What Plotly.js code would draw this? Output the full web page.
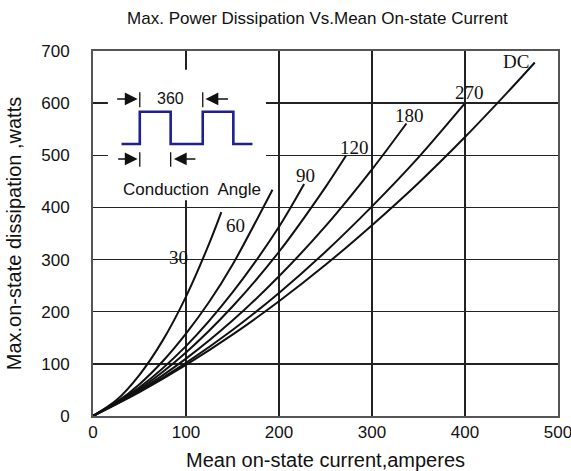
<!DOCTYPE html>
<html>
<head>
<meta charset="utf-8">
<script src="https://cdn.plot.ly/plotly-3.0.1.min.js"></script>
<style>html,body{margin:0;padding:0;background:#fff;}#chart{width:571px;height:471px;}</style>
</head>
<body>
<div id="chart"></div>
<script>
// Mean on-state current (A) and max dissipation (W)
const xDC  = [0, 50, 100, 150, 200, 250, 300, 350, 400, 450, 475];
const yDC  = [0, 46, 98, 156, 220, 290, 366, 447, 535, 629, 678];
const x270 = [0, 50, 100, 150, 200, 250, 300, 350, 400];
const y270 = [0, 47, 102, 165, 236, 315, 402, 496, 600];
const x180 = [0, 50, 100, 150, 200, 250, 300, 337];
const y180 = [0, 49, 110, 183, 268, 364, 473, 561];
const x120 = [0, 50, 100, 150, 200, 250, 272];
const y120 = [0, 52, 122, 210, 315, 439, 499];
const x90  = [0, 50, 100, 150, 200, 227];
const y90  = [0, 55, 134, 237, 363, 445];
const x60  = [0, 25, 50, 75, 100, 125, 150, 193];
const y60  = [0, 26, 61, 105, 158, 219, 290, 434];
const x30  = [0, 25, 50, 75, 100, 125, 138];
const y30  = [0, 30, 79, 145, 229, 331, 391];

const curveNames = ['30', '60', '90', '120', '180', '270', 'DC'];
const curveX = [x30, x60, x90, x120, x180, x270, xDC];
const curveY = [y30, y60, y90, y120, y180, y270, yDC];

const xTicks = [0, 100, 200, 300, 400, 500];
const yTicks = [0, 100, 200, 300, 400, 500, 600, 700];

const titleText = 'Max. Power Dissipation Vs.Mean On-state Current';
const xTitle = 'Mean on-state current,amperes';
const yTitle = 'Max.on-state dissipation ,watts';
const insetTop = '360';
const insetBottom = 'Conduction  Angle';

const traces = curveNames.map((n, i) => ({
  type: 'scatter', mode: 'lines', name: n,
  x: curveX[i], y: curveY[i],
  line: {color: '#111', width: 2, shape: 'spline', smoothing: 0.8},
  hoverinfo: 'skip', showlegend: false
}));

// label anchor positions (data units)
const labelPos = [[92, 304], [153, 366], [229, 462], [281, 515], [340, 577], [405, 620], [455, 680]];
const annotations = curveNames.map((n, i) => ({
  x: labelPos[i][0], y: labelPos[i][1], text: n, showarrow: false,
  xanchor: 'center', yanchor: 'middle',
  font: {family: 'Liberation Serif, serif', size: 19, color: '#111'}
}));

// inset: arrows
const navy = '#1f1f8f';
const arrowFont = {family: 'Liberation Sans, Arial, sans-serif', size: 16, color: '#111'};
function arrow(x, y, ax) {
  return {x: x, y: y, ax: ax, ay: 0, axref: 'pixel', ayref: 'pixel', text: '', showarrow: true,
    arrowhead: 2, arrowsize: 1.6, arrowwidth: 1.6, arrowcolor: '#111'};
}
annotations.push(arrow(48, 608, -22));
annotations.push(arrow(121, 608, 24));
annotations.push(arrow(48, 493, -21));
annotations.push(arrow(87, 493, 23));
annotations.push({x: 83, y: 608, text: insetTop, showarrow: false, font: arrowFont, xanchor: 'center', yanchor: 'middle'});
annotations.push({x: 106, y: 435, text: insetBottom, showarrow: false,
  font: {family: 'Liberation Sans, Arial, sans-serif', size: 17, color: '#111'}, xanchor: 'center', yanchor: 'middle'});

const shapes = [
  // white box hiding gridlines behind the inset
  {type: 'rect', xref: 'x', yref: 'y', x0: 16, x1: 186, y0: 414, y1: 664,
   fillcolor: '#ffffff', line: {width: 0}, layer: 'between'},
  // square wave
  {type: 'path', xref: 'x', yref: 'y', layer: 'above',
   path: 'M 30.7 521.7 L 50.3 521.7 L 50.3 583.6 L 83.5 583.6 L 83.5 521.7 L 118 521.7 L 118 583.6 L 150.9 583.6 L 150.9 521.7 L 171.5 521.7',
   line: {color: navy, width: 2.6}},
  // bars
  {type: 'line', xref: 'x', yref: 'y', x0: 50.3, x1: 50.3, y0: 592, y1: 621, line: {color: '#111', width: 1.3}},
  {type: 'line', xref: 'x', yref: 'y', x0: 118, x1: 118, y0: 592, y1: 621, line: {color: '#111', width: 1.3}},
  {type: 'line', xref: 'x', yref: 'y', x0: 50.3, x1: 50.3, y0: 478, y1: 506, line: {color: '#111', width: 1.3}},
  {type: 'line', xref: 'x', yref: 'y', x0: 83.5, x1: 83.5, y0: 478, y1: 506, line: {color: '#111', width: 1.3}}
];

const tickFont = {family: 'Liberation Sans, Arial, sans-serif', size: 17, color: '#111'};

const layout = {
  width: 571, height: 471,
  margin: {l: 93, r: 13, t: 51, b: 55},
  paper_bgcolor: '#fff', plot_bgcolor: '#fff',
  title: {text: titleText, x: 0.556, xref: 'container', y: 0.962, yref: 'container',
    xanchor: 'center', yanchor: 'middle',
    font: {family: 'Liberation Sans, Arial, sans-serif', size: 17, color: '#111'}},
  xaxis: {range: [0, 500], tickvals: xTicks, ticktext: xTicks.map(String),
    showgrid: true, gridcolor: '#222', gridwidth: 1.5,
    showline: true, mirror: true, linecolor: '#555', linewidth: 2,
    zeroline: false, ticks: '', tickfont: tickFont, ticklabeloverflow: 'allow', fixedrange: true,
    title: {text: xTitle, standoff: 14, font: {family: 'Liberation Sans, Arial, sans-serif', size: 20, color: '#111'}}},
  yaxis: {range: [0, 700], tickvals: yTicks, ticktext: yTicks.map(String),
    showgrid: true, gridcolor: '#222', gridwidth: 1.5,
    showline: true, mirror: true, linecolor: '#555', linewidth: 2,
    zeroline: false, ticks: '', tickfont: tickFont, ticklabelstandoff: 18, fixedrange: true,
    title: {text: yTitle, standoff: 14, font: {family: 'Liberation Sans, Arial, sans-serif', size: 20, color: '#111'}}},
  shapes: shapes,
  annotations: annotations,
  showlegend: false
};

Plotly.newPlot('chart', traces, layout, {displayModeBar: false, staticPlot: true});
</script>
</body>
</html>
